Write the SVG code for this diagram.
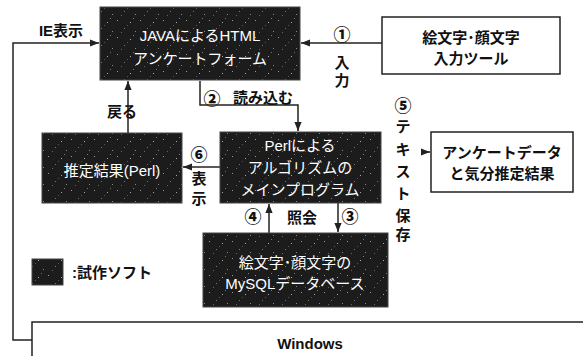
<svg xmlns="http://www.w3.org/2000/svg" width="583" height="356" viewBox="0 0 583 356">
<style>
.dark{fill:url(#speck);stroke:#444;stroke-width:1}
.wbox{fill:#fff;stroke:#222;stroke-width:1.5}
.wt{fill:#fff;font-family:"Liberation Sans","Noto Sans CJK JP",sans-serif;font-size:15px;text-anchor:middle;dominant-baseline:central}
.bt{fill:#111;font-family:"Liberation Sans","Noto Sans CJK JP",sans-serif;font-size:15px;font-weight:bold;text-anchor:middle;dominant-baseline:central}
.num{fill:#111;font-family:"Noto Sans CJK JP",sans-serif;font-size:17px;font-weight:900;text-anchor:middle;dominant-baseline:central}
.ln{fill:none;stroke:#222;stroke-width:1.5}
</style>
<defs>
<pattern id="speck" width="23" height="17" patternUnits="userSpaceOnUse">
<rect width="23" height="17" fill="#1c1c1c"/>
<rect x="2" y="3" width="1" height="1" fill="#999"/>
<rect x="9" y="11" width="1" height="1" fill="#777"/>
<rect x="15" y="5" width="1" height="1" fill="#aaa"/>
<rect x="20" y="14" width="1" height="1" fill="#888"/>
<rect x="6" y="15" width="1" height="1" fill="#666"/>
<rect x="18" y="1" width="1" height="1" fill="#777"/>
<rect x="12" y="8" width="1" height="1" fill="#555"/>
</pattern>
<marker id="ah" viewBox="0 0 10 10" refX="10" refY="5" markerWidth="6" markerHeight="6" orient="auto-start-reverse">
<path d="M0,1 L10,5 L0,9 z" fill="#222"/>
</marker>
</defs>

<g id="connectors">
<path class="ln" d="M382,43 H301" marker-end="url(#ah)"/>
<path class="ln" d="M32,340 H13 V43 H99" marker-end="url(#ah)"/>
<path class="ln" d="M200,81 V105 H298 V131" marker-end="url(#ah)"/>
<path class="ln" d="M220,167 H183" marker-end="url(#ah)"/>
<path class="ln" d="M128,133 V81" marker-end="url(#ah)"/>
<path class="ln" d="M269,233 V204" marker-end="url(#ah)"/>
<path class="ln" d="M338,203 V232" marker-end="url(#ah)"/>
<path class="ln" d="M421,152 H430" marker-end="url(#ah)"/>
</g>

<g id="java">
<rect class="dark" x="100" y="7" width="200" height="73"/>
<text class="wt" x="200" y="35">JAVAによるHTML</text>
<text class="wt" x="200" y="58">アンケートフォーム</text>
</g>

<g id="tool">
<rect class="wbox" x="382" y="17" width="178" height="57"/>
<text class="bt" x="471" y="37" font-size="16">絵文字･顔文字</text>
<text class="bt" x="471" y="58" font-size="16">入力ツール</text>
</g>

<g id="perl">
<rect class="dark" x="220" y="132" width="161" height="71"/>
<text class="wt" x="300" y="145">Perlによる</text>
<text class="wt" x="300" y="167">アルゴリズムの</text>
<text class="wt" x="300" y="189">メインプログラム</text>
</g>

<g id="estimate">
<rect class="dark" x="42" y="133" width="140" height="70"/>
<text class="wt" x="112" y="170" font-size="16">推定結果(Perl)</text>
</g>

<g id="mysql">
<rect class="dark" x="203" y="233" width="185" height="74"/>
<text class="wt" x="295" y="262">絵文字･顔文字の</text>
<text class="wt" x="295" y="283">MySQLデータベース</text>
</g>

<g id="output">
<rect class="wbox" x="431" y="132" width="142" height="60"/>
<text class="bt" x="502" y="152">アンケートデータ</text>
<text class="bt" x="502" y="173">と気分推定結果</text>
</g>

<g id="windows">
<path class="ln" d="M32,356 V322 H583"/>
<text class="bt" x="310" y="343" font-size="18">Windows</text>
</g>

<g id="legend">
<rect class="dark" x="32" y="259" width="31" height="26"/>
<text class="bt" x="72" y="272" font-size="16" style="text-anchor:start">:試作ソフト</text>
</g>

<g id="labels">
<text class="bt" x="61" y="30">IE表示</text>
<text class="num" x="342" y="33">①</text>
<text class="bt" x="342" y="62">入</text>
<text class="bt" x="342" y="80">力</text>
<text class="num" x="212" y="97">②</text>
<text class="bt" x="263" y="97" font-size="16">読み込む</text>
<text class="bt" x="122" y="111">戻る</text>
<text class="num" x="199" y="153">⑥</text>
<text class="bt" x="199" y="178">表</text>
<text class="bt" x="199" y="198">示</text>
<text class="num" x="253" y="215">④</text>
<text class="bt" x="302" y="217">照会</text>
<text class="num" x="350" y="215">③</text>
<text class="num" x="403" y="104">⑤</text>
<text class="bt" x="403" y="126">テ</text>
<text class="bt" x="403" y="149">キ</text>
<text class="bt" x="403" y="171">ス</text>
<text class="bt" x="403" y="193">ト</text>
<text class="bt" x="403" y="215">保</text>
<text class="bt" x="403" y="234">存</text>
</g>
</svg>
